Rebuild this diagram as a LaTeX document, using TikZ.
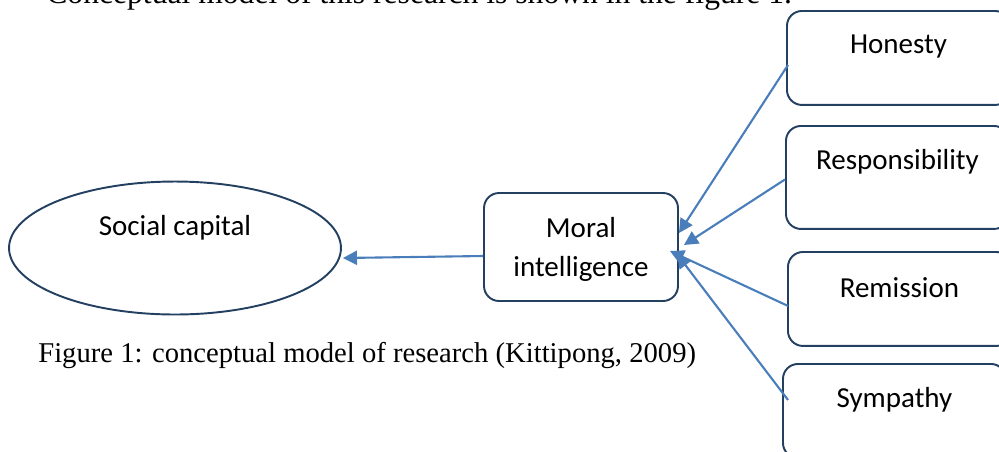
\documentclass[tikz,border=0pt]{standalone}
\usepackage{fontspec}
\setmainfont{Carlito}
\newfontfamily\capfont{Liberation Serif}
\usetikzlibrary{shapes, arrows.meta, positioning, calc}

\definecolor{boxline}{RGB}{36,64,97}
\definecolor{arrowblue}{RGB}{74,126,187}

\begin{document}
\begin{tikzpicture}[x=0.02cm, y=-0.02cm,
    every node/.style={font=\fontsize{16.5}{22.5}\selectfont},
    box/.style={draw=boxline, line width=1.1pt, rounded corners=0.3cm,
      minimum width=4.46cm, minimum height=1.88cm},
    link/.style={draw=arrowblue, line width=1.2pt, -{Triangle[length=8pt, width=8pt]}}]
  \useasboundingbox (0,0) rectangle (999,451);
  \node[anchor=base west, inner sep=0pt, font=\capfont\fontsize{18}{20}\selectfont] (intro) at (46,3)
    {Conceptual model of this research is shown in the figure 1.};
  \node[ellipse, draw=boxline, line width=1.1pt, minimum width=6.64cm, minimum height=2.66cm,
    label={[anchor=center, yshift=-0.95cm]north:Social capital}] (social) at (175,248) {};
  \node[box, minimum width=3.88cm, minimum height=2.16cm, align=center, text depth=0pt] (moral) at (581,247)
    {Moral\\intelligence};
  \node[box, anchor=north west, label={[anchor=center, yshift=-0.74cm]north:Honesty}] (hon) at (786,10) {};
  \node[box, anchor=north west, minimum height=2.06cm,
    label={[anchor=center, yshift=-0.74cm]north:Responsibility}] (res) at (785,125) {};
  \node[box, anchor=north west, label={[anchor=center, yshift=-0.74cm]north:Remission}] (rem) at (787,251) {};
  \node[box, anchor=north west, label={[anchor=center, yshift=-0.74cm]north:Sympathy}] (sym) at (782,363) {};
  \node[anchor=base west, inner sep=0pt, font=\capfont\fontsize{16.3}{18}\selectfont] (caption) at (38,362)
    {Figure 1: conceptual model of research (Kittipong, 2009)};
  % arrows into moral intelligence
  \draw[link] ($(hon.west)+(2,7)$) -- ($(moral.east)+(0,-14)$);
  \draw[link] ($(res.west)+(0,2)$) -- ($(moral.east)+(5,-2)$);
  \draw[link] ($(rem.west)+(1,7)$) -- ($(moral.east)+(-9,4)$);
  \draw[link] ($(sym.west)+(6,-11)$) -- ($(moral.east)+(-2,7)$);
  \draw[link] ($(moral.west)+(0,9)$) -- ($(social.east)+(1,10)$);
\end{tikzpicture}
\end{document}
